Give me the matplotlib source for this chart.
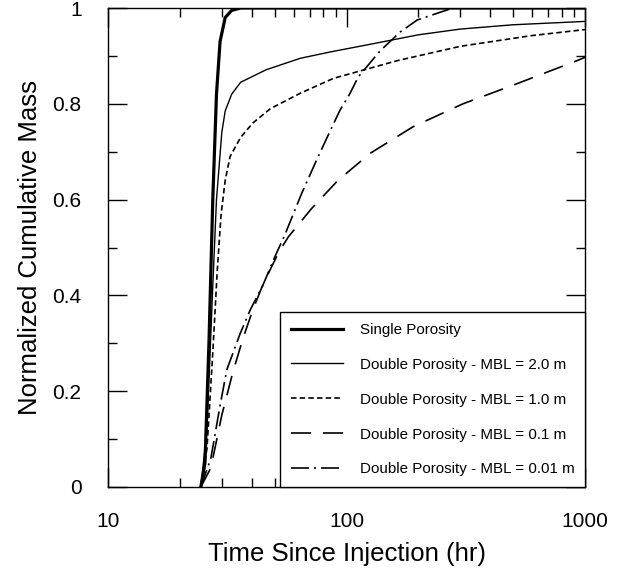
import matplotlib
matplotlib.use('Agg')
import matplotlib.pyplot as plt
from matplotlib import font_manager
from matplotlib.ticker import FixedLocator, FixedFormatter, NullFormatter

# data
t_single = [24.5, 25.5, 26.5, 27.5, 28.5, 29.5, 31, 33, 36, 1000]
m_single = [0, 0.05, 0.3, 0.6, 0.82, 0.93, 0.98, 0.995, 1.0, 1.0]

t_mbl20 = [24.5, 26, 27.5, 28.5, 30, 31, 33, 36, 46, 64, 85, 122, 200, 300, 500, 1000]
m_mbl20 = [0, 0.12, 0.42, 0.6, 0.74, 0.785, 0.82, 0.845, 0.871, 0.895, 0.908, 0.923, 0.944, 0.956, 0.965, 0.972]

t_mbl10 = [24.5, 26, 27.5, 28.7, 29.8, 31, 32.5, 36, 40.5, 48, 64, 88, 163, 300, 590, 1000]
m_mbl10 = [0, 0.08, 0.28, 0.45, 0.57, 0.64, 0.69, 0.73, 0.76, 0.79, 0.822, 0.853, 0.89, 0.92, 0.942, 0.955]

t_mbl01 = [24.5, 27, 30, 33.4, 36.8, 40.5, 44, 48, 52, 57, 71, 92, 126, 190, 308, 500, 925, 1000]
m_mbl01 = [0, 0.04, 0.15, 0.24, 0.31, 0.37, 0.415, 0.455, 0.49, 0.522, 0.58, 0.64, 0.697, 0.752, 0.80, 0.839, 0.89, 0.897]

t_mbl001 = [24.5, 27, 29.5, 31.5, 35.8, 39.5, 44.5, 50, 55, 65, 75, 87, 94, 103, 112, 138, 168, 198, 250, 280, 1000]
m_mbl001 = [0, 0.06, 0.17, 0.245, 0.32, 0.37, 0.42, 0.48, 0.525, 0.614, 0.683, 0.752, 0.787, 0.82, 0.856, 0.91, 0.95, 0.975, 0.992, 1.0, 1.0]

labels = ['Single Porosity',
          'Double Porosity - MBL = 2.0 m',
          'Double Porosity - MBL = 1.0 m',
          'Double Porosity - MBL = 0.1 m',
          'Double Porosity - MBL = 0.01 m']

xticks = [10, 100, 1000]
xticklabels = ['10', '100', '1000']
yticks = [0, 0.2, 0.4, 0.6, 0.8, 1.0]
yticklabels = ['0', '0.2', '0.4', '0.6', '0.8', '1']

plt.rcParams['font.family'] = ['Liberation Sans', 'DejaVu Sans']

fig = plt.figure(figsize=(6.24, 5.79), dpi=100)
ax = fig.add_axes([108/624, 1 - 487/579, 477/624, 479/579])

ax.plot(t_single, m_single, color='black', lw=2.3, label=labels[0])
ax.plot(t_mbl20, m_mbl20, color='black', lw=1.0, label=labels[1])
ax.plot(t_mbl10, m_mbl10, color='black', lw=1.2, dashes=(3.3, 1.9), label=labels[2])
ax.plot(t_mbl01, m_mbl01, color='black', lw=1.2, dashes=(12, 7.2), label=labels[3])
ax.plot(t_mbl001, m_mbl001, color='black', lw=1.2, dashes=(10.8, 3, 1.2, 3), label=labels[4])

ax.set_xscale('log')
ax.set_xlim(10, 1000)
ax.set_ylim(0, 1)
ax.xaxis.set_major_locator(FixedLocator(xticks))
ax.xaxis.set_major_formatter(FixedFormatter(xticklabels))
ax.xaxis.set_minor_formatter(NullFormatter())
ax.yaxis.set_major_locator(FixedLocator(yticks))
ax.yaxis.set_major_formatter(FixedFormatter(yticklabels))
ax.yaxis.set_minor_locator(FixedLocator([0.1, 0.3, 0.5, 0.7, 0.9]))

ax.tick_params(which='both', direction='in', top=True, right=True, width=1.0, labelsize=15)
ax.tick_params(which='major', length=14)
ax.tick_params(which='minor', length=6.5)
ax.tick_params(axis='x', which='major', pad=18)
ax.tick_params(axis='y', which='major', pad=19)
for s in ax.spines.values():
    s.set_linewidth(1.0)

ax.set_xlabel('Time Since Injection (hr)', fontsize=18.5, labelpad=8)
ax.set_ylabel('Normalized Cumulative Mass', fontsize=18.5, labelpad=7.5)

names = {f.name for f in font_manager.fontManager.ttflist}
if 'Liberation Sans Narrow' in names:
    lfont = {'family': 'Liberation Sans Narrow', 'size': 13.4}
else:
    lfont = {'family': 'Liberation Sans', 'size': 10.9}
em = lfont['size'] * 100 / 72.0

leg = ax.legend(loc='lower right', borderaxespad=0, prop=lfont,
                handlelength=52/em, handletextpad=17/em,
                labelspacing=(35 - 0.93*em)/em, borderpad=10.5/em,
                fancybox=False, framealpha=1, edgecolor='black')
leg.get_frame().set_linewidth(1.0)

fig.savefig('out.png', dpi=100)
